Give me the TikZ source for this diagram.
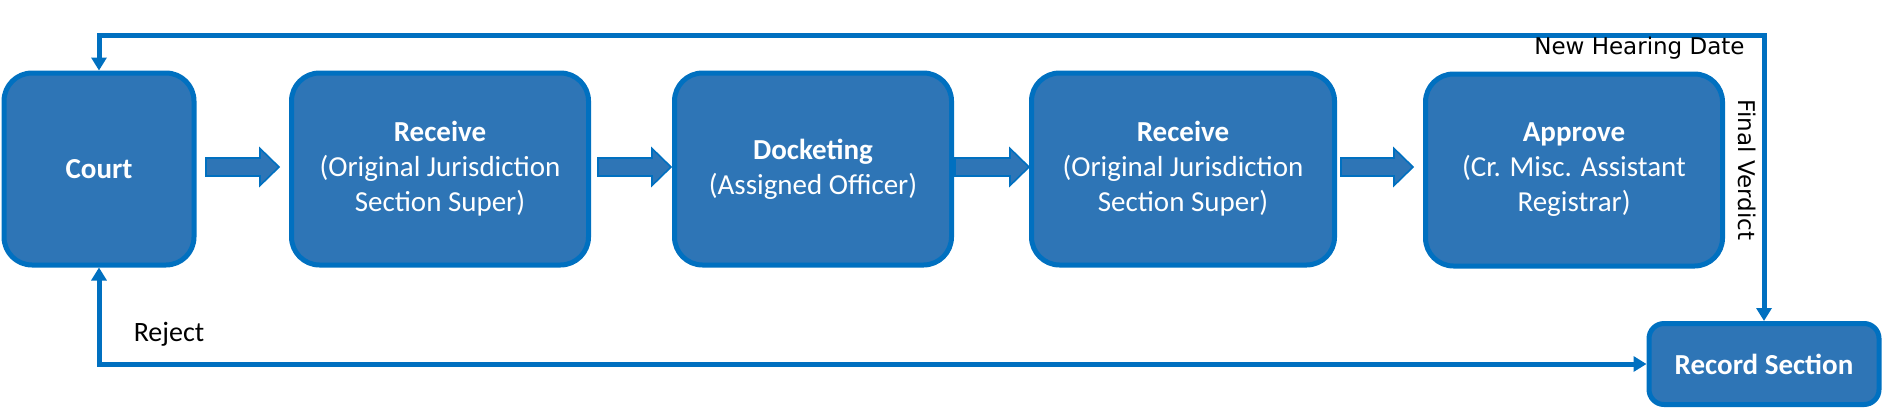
\documentclass[tikz,border=0pt]{standalone}
\usepackage{fontspec}
\setmainfont{Carlito}
\newfontfamily\lblfont{DejaVu Sans}
\usetikzlibrary{arrows.meta}
\definecolor{boxfill}{HTML}{2E75B6}
\definecolor{lineblue}{HTML}{0070C0}
\tikzset{
  procbox/.style={draw=lineblue, fill=boxfill, line width=2.5pt, rounded corners=14pt,
    text=white, align=center, font=\fontsize{14.5}{17.5}\selectfont,
    minimum height=96pt, inner sep=0pt},
  recbox/.style={draw=lineblue, fill=boxfill, line width=2.5pt, rounded corners=7.5pt,
    text=white, align=center, font=\bfseries\fontsize{14.5}{17.5}\selectfont,
    minimum width=115pt, minimum height=40.5pt, inner sep=0pt},
  conn/.style={draw=lineblue, line width=2.5pt,
    {Triangle[length=6.5pt,width=7.5pt]}-{Triangle[length=6.5pt,width=7.5pt]}},
  blockarrow/.style={fill=boxfill, draw=lineblue, line width=0.8pt},
  lbl/.style={font=\lblfont\fontsize{11.5}{13}\selectfont, text=black, inner sep=0pt},
  rejlbl/.style={font=\fontsize{14}{17}\selectfont, text=black, inner sep=0pt},
}
\newcommand\blkarrow[3]{%
  \filldraw[blockarrow] (#1,#3-9) -- (#2-19,#3-9) -- (#2-19,#3-18.5) -- (#2,#3)
    -- (#2-19,#3+18.5) -- (#2-19,#3+9) -- (#1,#3+9) -- cycle;}
\begin{document}
\begin{tikzpicture}[x=0.5pt, y=-0.5pt]
\useasboundingbox (0,0) rectangle (1882,408);

\node[procbox, minimum width=95pt] (court) at (99,169) {\textbf{Court}};
\node[procbox, minimum width=148.5pt] (recv1) at (440,169)
  {\textbf{Receive}\\(Original Jurisdiction\\Section Super)};
\node[procbox, minimum width=138.5pt] (dock) at (813,169)
  {\textbf{Docketing}\\(Assigned Officer)};
\node[procbox, minimum width=151.5pt] (recv2) at (1183,169)
  {\textbf{Receive}\\(Original Jurisdiction\\Section Super)};
\node[procbox, minimum width=148.5pt] (approve) at (1574,170)
  {\textbf{Approve}\\(Cr. Misc. Assistant\\Registrar)};
\node[recbox] (record) at (1764,364) {Record Section};

\blkarrow{206}{279}{167}
\blkarrow{598}{671}{167}
\blkarrow{955}{1029}{167}
\blkarrow{1341}{1413}{167}

\coordinate (topleft) at (99,35);
\draw[conn] (court.north) -- (topleft) -| (record.north);
\draw[conn] (court.south) |- (record.west);

\node[lbl, anchor=east] (nhd) at (1745,48) {New Hearing Date};
\node[lbl, rotate=-90] (fv) at (1747,170) {Final Verdict};
\node[rejlbl] (rej) at (169,334) {Reject};
\end{tikzpicture}
\end{document}
